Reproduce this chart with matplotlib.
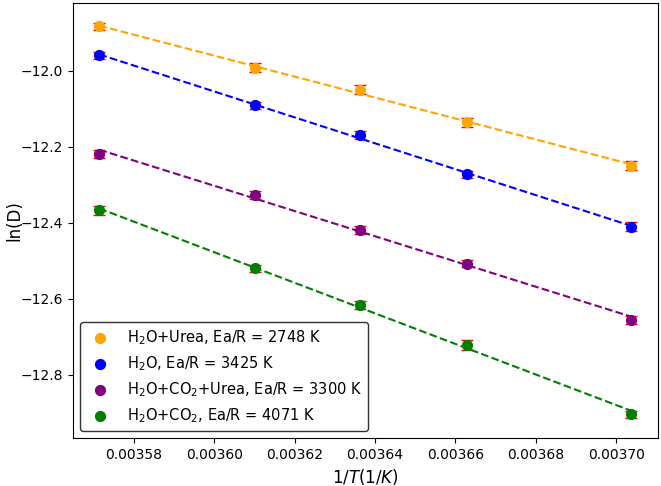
import numpy as np
import matplotlib
matplotlib.use("Agg")
import matplotlib.pyplot as plt

# temperatures (K) -> 1/T
temps = np.array([280, 277, 275, 273, 270])
inv_t = 1.0 / temps

# ln(D) values
ln_d_urea = [-11.883, -11.992, -12.049, -12.135, -12.249]
ln_d_h2o = [-11.959, -12.091, -12.168, -12.272, -12.410]
ln_d_co2_urea = [-12.218, -12.326, -12.419, -12.507, -12.655]
ln_d_co2 = [-12.367, -12.520, -12.617, -12.721, -12.904]

# small error bars
err_urea = [0.010, 0.012, 0.012, 0.012, 0.011]
err_h2o = [0.009, 0.010, 0.011, 0.009, 0.012]
err_co2_urea = [0.010, 0.010, 0.010, 0.010, 0.011]
err_co2 = [0.011, 0.010, 0.011, 0.013, 0.010]

labels = [
    "H$_2$O+Urea, Ea/R = 2748 K",
    "H$_2$O, Ea/R = 3425 K",
    "H$_2$O+CO$_2$+Urea, Ea/R = 3300 K",
    "H$_2$O+CO$_2$, Ea/R = 4071 K",
]
colors = ["orange", "blue", "purple", "green"]
series = [ln_d_urea, ln_d_h2o, ln_d_co2_urea, ln_d_co2]
errors = [err_urea, err_h2o, err_co2_urea, err_co2]

fig = plt.figure(figsize=(6.61, 4.86), dpi=100)
ax = fig.add_axes([0.110, 0.099, 0.885, 0.895])

for y, e, c, lab in zip(series, errors, colors, labels):
    ax.errorbar(inv_t, y, yerr=e, fmt="none", ecolor="red", capsize=4,
                elinewidth=1, zorder=2)
    ax.scatter(inv_t, y, color=c, s=50, label=lab, zorder=3)
    k, b = np.polyfit(inv_t, y, 1)
    ax.plot(inv_t, k * inv_t + b, "--", color=c, linewidth=1.5, zorder=2)

ax.set_xticks([0.00358, 0.00360, 0.00362, 0.00364, 0.00366, 0.00368, 0.00370])
ax.set_xlabel("$1/T (1/K)$", fontsize=12)
ax.set_ylabel("ln(D)", fontsize=12)
ax.yaxis.set_label_coords(-0.085, 0.5)
ax.legend(loc="lower left", fontsize=10.5, edgecolor="black", labelspacing=0.5)

fig.savefig("out.png", dpi=100)
